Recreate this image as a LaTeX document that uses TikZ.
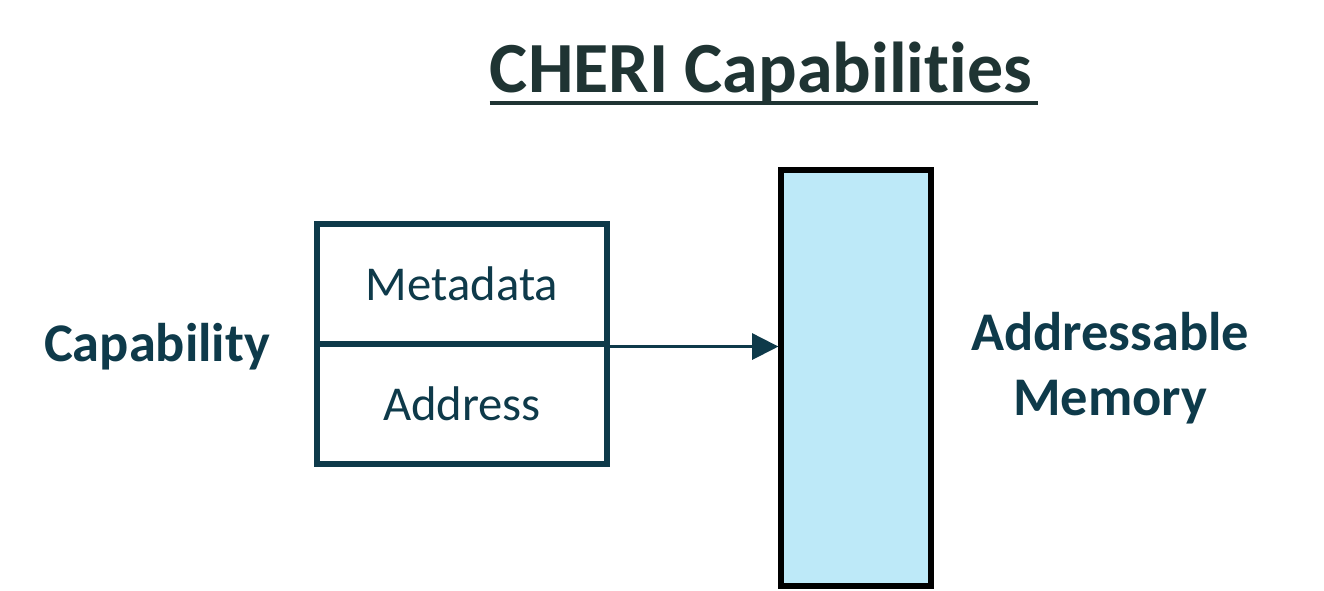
\documentclass[tikz,border=0pt]{standalone}
\usepackage{fontspec}
\setmainfont{Carlito}[Ligatures=NoCommon]
\usetikzlibrary{arrows.meta}
\definecolor{titlecol}{HTML}{1F3433}
\definecolor{tealcol}{HTML}{0E3A4A}
\definecolor{memcol}{HTML}{BDE9F8}
\begin{document}
\begin{tikzpicture}[x=0.02cm,y=-0.02cm]
		\useasboundingbox (0,0) rectangle (1324,591);
		\node[anchor=base,inner sep=0,text=titlecol,font=\fontsize{41}{48}\selectfont\bfseries] (title) at (761,93) {CHERI Capabilities};
		\draw[titlecol,line width=2.4pt] (title.base west)++(0,10) -- ++(548,0);
		
		\node[draw=tealcol,line width=2.9pt,minimum width=5.8cm,minimum height=2.4cm,text=tealcol,font=\fontsize{27.7}{33}\selectfont] (meta) at (462,284) {Metadata};
		\node[draw=tealcol,line width=2.9pt,minimum width=5.8cm,minimum height=2.4cm,text=tealcol,font=\fontsize{27.7}{33}\selectfont] (addr) at (462,404) {Address};
		\node[draw=black,fill=memcol,line width=3pt,minimum width=3cm,minimum height=8.32cm] (mem) at (856,378) {};
		
		\draw[-{Triangle[length=15pt,width=15pt]},tealcol,line width=1.2pt] (meta.south east) -- (meta.south east -| mem.west);
		
		\node[anchor=base,text=tealcol,font=\fontsize{31}{36}\selectfont\bfseries] (cap) at (157,361) {Capability};
		\node[anchor=base,text=tealcol,font=\fontsize{31}{36}\selectfont\bfseries] (addrmem) at (1110,350) {Addressable};
		\node[anchor=base,text=tealcol,font=\fontsize{31}{36}\selectfont\bfseries] (memory) at (1110,415) {Memory};
	\end{tikzpicture}
\end{document}
